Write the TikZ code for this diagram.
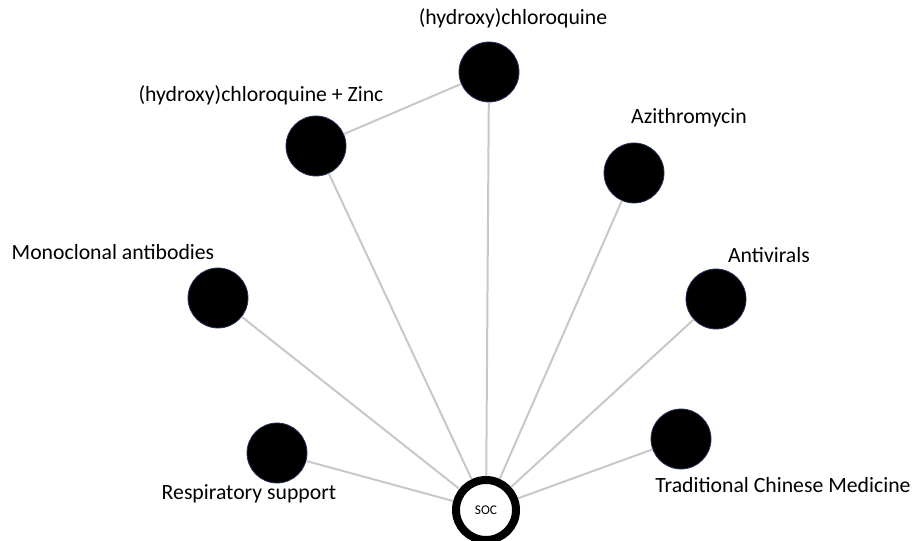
\documentclass[tikz,border=0pt]{standalone}
\usepackage{fontspec}
\setmainfont{Carlito}
\definecolor{edgegray}{RGB}{200,200,200}
\definecolor{rimblue}{RGB}{40,50,90}
\tikzset{
    drug/.style={circle, fill=black, draw=rimblue, line width=0.6pt, minimum size=45pt, inner sep=0pt},
    hub/.style={circle, fill=white, draw=black, line width=6pt, minimum size=45pt, inner sep=0pt, font=\fontsize{10}{12}\selectfont},
    tag/.style={font=\fontsize{16.3}{19}\selectfont, inner sep=0pt},
    link/.style={edgegray, line width=1.5pt}
}
\begin{document}
\begin{tikzpicture}[x=0.75pt, y=-0.75pt]
    \useasboundingbox (0,0) rectangle (913,541);

    \node[hub] (soc) at (486,510) {SOC};

    \node[drug] (hcq) at (489,72) {};
    \node[drug] (zinc) at (316,146) {};
    \node[drug] (azi) at (634,173) {};
    \node[drug] (mab) at (218,298) {};
    \node[drug] (antiv) at (716,299) {};
    \node[drug] (resp) at (277,453) {};
    \node[drug] (tcm) at (681,439) {};

    \node[tag] (hcqlabel) at (513,18) {(hydroxy)chloroquine};
    \node[tag] (zinclabel) at (261,95) {(hydroxy)chloroquine + Zinc};
    \node[tag] (azilabel) at (689,118) {Azithromycin};
    \node[tag] (mablabel) at (113,252) {Monoclonal antibodies};
    \node[tag] (antivlabel) at (769,255) {Antivirals};
    \node[tag] (resplabel) at (249,494) {Respiratory support};
    \node[tag] (tcmlabel) at (783,485) {Traditional Chinese Medicine};

    \draw[link] (hcq) -- (zinc);
    \foreach \n in {hcq, zinc, azi, mab, antiv, resp, tcm}
        \draw[link] (soc) -- (\n);
\end{tikzpicture}
\end{document}
